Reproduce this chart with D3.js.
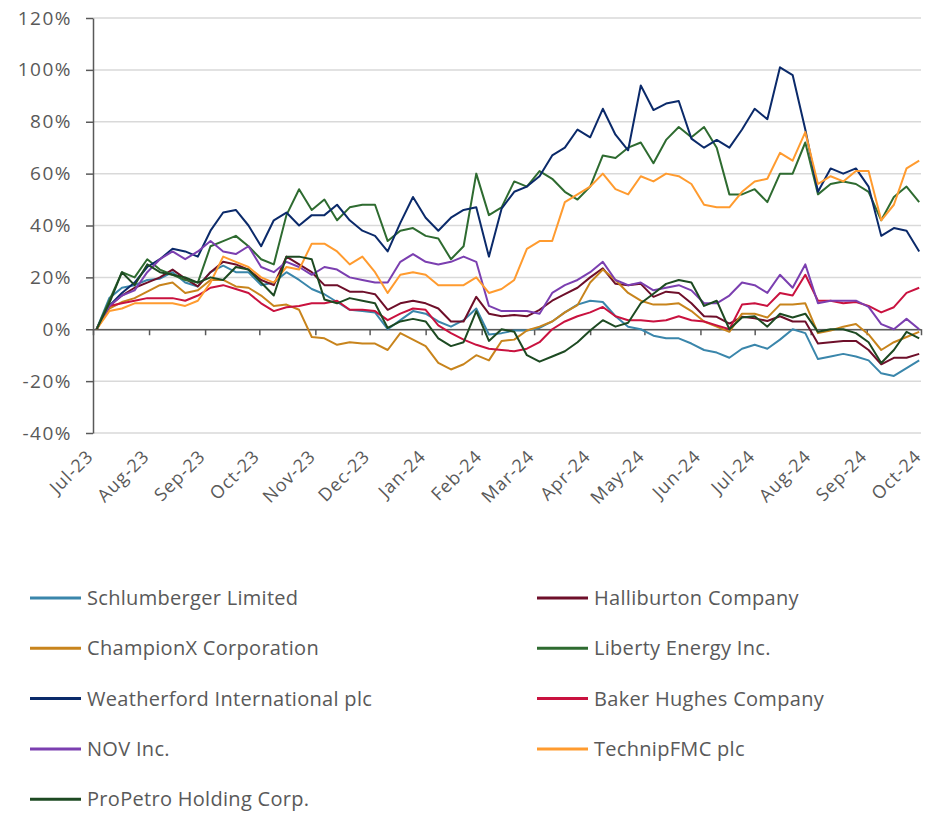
<!DOCTYPE html>
<html lang="en">
<head>
<meta charset="utf-8">
<title>Oilfield services share price performance</title>
<script src="https://cdn.jsdelivr.net/npm/d3@7/dist/d3.min.js"></script>
<style>
  body { margin: 0; background: #fff; }
  text { font-family: "Open Sans", sans-serif; fill: #595959; }
</style>
</head>
<body>
<script>
// % change since start of Jul-23, one reading per week (Mondays)
var seriesNames = ['Schlumberger Limited', 'Halliburton Company', 'ChampionX Corporation',
  'Liberty Energy Inc.', 'Weatherford International plc', 'Baker Hughes Company',
  'NOV Inc.', 'TechnipFMC plc', 'ProPetro Holding Corp.'];
var seriesColors = ['#3a86ab', '#6e0f2a', '#c8841c', '#2e6b30', '#0b2a6a',
  '#c9123f', '#7b3fb0', '#ff9b2f', '#1d4a22'];

var slb = [0, 12, 16, 17, 19, 19.5, 22, 18, 16.5, 22, 24.5, 22, 22, 17, 18, 22, 19, 15.5, 13.5, 10.5,
  7.5, 7, 6.5, 0, 3.5, 7, 6, 3, 1, 3.5, 8, -2, -1.5, -0.5, -0.5, 0.5, 3, 6.5, 9.5, 11,
  10.5, 5, 1, 0, -2.5, -3.5, -3.5, -5.5, -8, -9, -11, -7.5, -6, -7.5, -4, 0, -1.5, -11.5, -10.5, -9.5,
  -10.5, -12, -17, -18, -15, -12];
var hal = [0, 9, 13, 16, 18, 20, 23, 19.5, 16.5, 22, 26, 25, 23, 19, 17, 28, 25, 22, 17, 17,
  14.5, 14.5, 13.5, 7.5, 10, 11, 10, 8, 3, 3, 12.5, 6, 5, 5.5, 5, 7.5, 11, 13.5, 16, 20,
  23.5, 17.5, 17, 17.5, 12.5, 14.5, 14, 10, 5, 4.8, 2.2, 4.8, 4.2, 3.2, 5, 3, 3, -5.5, -5, -4.5,
  -4.5, -8, -13.5, -11, -11, -9.5];
var chx = [0, 8, 10.5, 12, 14.5, 17, 18, 14, 15, 19, 19, 16.5, 16, 13, 9, 9.5, 7.5, -3, -3.5, -6,
  -5, -5.5, -5.5, -8, -1.5, -4, -6.5, -13, -15.5, -13.5, -10, -12, -4.5, -4, -0.5, 1, 3, 6.5, 9.3, 18,
  23, 19, 14, 11, 9.5, 9.5, 10, 7, 3, 1, -1, 6, 6, 4.5, 9.5, 9.5, 10, -1.5, -0.5, 1,
  2, -2, -8, -5, -3, -1];
var lbrt = [0, 11, 22, 20, 27, 23, 21, 19, 18, 32, 34, 36, 32, 27, 25, 44, 54, 46, 50, 42,
  47, 48, 48, 34, 38, 39, 36, 35, 27, 32, 60, 44, 47, 57, 55, 61, 58, 53, 50, 55,
  67, 66, 70, 72, 64, 73, 78, 74, 78, 70, 52, 52, 54, 49, 60, 60, 72, 52, 56, 57,
  56, 53, 42, 51, 55, 49];
var wfrd = [0, 9, 14, 18, 24, 27, 31, 30, 28, 38, 45, 46, 40, 32, 42, 45, 40, 44, 44, 48,
  42, 38, 36, 30, 41, 51, 43, 38, 43, 46, 47, 28, 46.5, 53, 55, 59, 67, 70, 77, 74,
  85, 75, 69, 94, 84.5, 87, 88, 73.5, 70, 73, 70, 77, 85, 81, 101, 98, 77, 53, 62, 60,
  62, 55, 36, 39, 38, 30];
var bkr = [0, 9, 10, 11, 12, 12, 12, 11, 13, 16, 17, 15.5, 14, 10, 7, 8.5, 9, 10, 10, 11,
  7.5, 7.5, 7, 3.5, 6, 8, 7.5, 1.5, -1.5, -4, -6, -7.5, -8, -8.5, -7.5, -5, 0, 3, 5, 6.5,
  8.6, 5, 3.5, 3.5, 3, 3.5, 5, 3.5, 3, 1.5, 0, 9.5, 10, 9, 14, 13, 21, 11, 11, 10,
  10.5, 9, 6.5, 8.5, 14, 16];
var nov = [0, 9, 13, 15, 22, 27, 30, 27, 30, 34, 30, 29, 32, 24, 22, 26, 24, 21, 24, 23,
  20, 19, 18, 18, 26, 29, 26, 25, 26, 28, 26, 9, 7, 7, 7, 6, 14, 17, 19, 22,
  26, 19, 17, 18, 15, 16, 17, 15, 10, 10, 13, 18, 17, 14, 21, 16, 25, 10, 11, 11,
  11, 8.6, 2, 0, 4, 0];
var fti = [0, 7, 8, 10, 10, 10, 10, 9, 11, 18, 28, 26, 24, 20, 18, 24, 23, 33, 33, 30,
  25, 28, 22, 14, 21, 22, 21, 17, 17, 17, 20, 14, 15.5, 19, 31, 34, 34, 49, 52, 55,
  60, 54, 52, 59, 57, 60, 59, 56, 48, 47, 47, 53, 57, 58, 68, 65, 76, 56, 59, 57,
  61, 61, 42, 48, 62, 65];
var pump = [0, 10, 22, 17, 25, 22, 21, 20, 18, 20, 19, 24, 23, 18, 13, 28, 28, 27, 11.5, 10,
  12, 11, 10, 0.5, 3, 4, 3, -3.5, -6.5, -5, 7, -4.5, 0, -1, -10, -12.5, -10.5, -8.5, -5, -0.5,
  3.5, 1, 2.5, 10, 13.7, 17.5, 19, 18, 9, 11, 0, 4.5, 5, 1, 6, 4.5, 6, -1, 0, 0,
  -1.5, -5, -13, -8, -1, -3.5];

var seriesValues = [slb, hal, chx, lbrt, wfrd, bkr, nov, fti, pump];
var yTicks = [-40, -20, 0, 20, 40, 60, 80, 100, 120];

var firstDate = new Date(2023, 6, 3);
var dates = slb.map(function(d, i) { return d3.timeDay.offset(firstDate, 7 * i); });

var w = 928;
var h = 813;

var svg = d3.select('body').append('svg')
            .attr('width', w)
            .attr('height', h);

var xScale = d3.scaleTime()
               .domain([new Date(2023, 6, 1), new Date(2024, 9, 1)])
               .range([93, 921]);
var yScale = d3.scaleLinear()
               .domain([-40, 120])
               .range([433, 18]);

// gridlines
svg.selectAll('line.grid')
   .data(yTicks)
   .enter()
   .append('line')
   .attr('class', 'grid')
   .attr('x1', xScale.range()[0])
   .attr('x2', xScale.range()[1])
   .attr('y1', function(d) { return yScale(d); })
   .attr('y2', function(d) { return yScale(d); })
   .attr('stroke', '#d9d9d9')
   .attr('stroke-width', 1.5);

// y axis
var yAxis = svg.append('g')
   .attr('transform', 'translate(' + xScale.range()[0] + ',0)')
   .call(d3.axisLeft(yScale).tickValues(yTicks)
           .tickFormat(function(d) { return d + '%'; })
           .tickSize(7).tickSizeOuter(0).tickPadding(14));
yAxis.selectAll('path, line').attr('stroke', '#595959').attr('stroke-width', 1.5);
yAxis.selectAll('text').attr('font-size', '19px').attr('letter-spacing', '1.5px')
     .attr('font-family', null).attr('fill', null);

// x axis sits on the 0% line, labels drop to the bottom
var months = d3.timeMonth.range(new Date(2023, 6, 1), new Date(2024, 9, 2));
var xAxis = svg.append('g')
   .attr('transform', 'translate(0,' + yScale(0) + ')')
   .call(d3.axisBottom(xScale).tickValues(months).tickFormat('')
           .tickSize(6).tickSizeOuter(0));
xAxis.selectAll('path, line').attr('stroke', '#595959').attr('stroke-width', 1.5);

svg.selectAll('text.month')
   .data(months)
   .enter()
   .append('text')
   .attr('class', 'month')
   .attr('text-anchor', 'end')
   .attr('font-size', '18px')
   .attr('letter-spacing', '1px')
   .attr('dy', '0.35em')
   .attr('transform', function(d) {
     return 'translate(' + (xScale(d) - 3) + ',453) rotate(-45)';
   })
   .text(d3.timeFormat('%b-%y'));

// series lines
var line = d3.line()
   .x(function(d, i) { return xScale(dates[i]); })
   .y(function(d) { return yScale(d); });

svg.selectAll('path.series')
   .data(seriesValues)
   .enter()
   .append('path')
   .attr('class', 'series')
   .attr('d', line)
   .attr('fill', 'none')
   .attr('stroke', function(d, i) { return seriesColors[i]; })
   .attr('stroke-width', 2)
   .attr('stroke-linejoin', 'round');

// legend, two columns
var legend = svg.selectAll('g.legend')
   .data(seriesNames)
   .enter()
   .append('g')
   .attr('class', 'legend')
   .attr('transform', function(d, i) {
     return 'translate(' + (i % 2 ? 537 : 30) + ',' + (598 + Math.floor(i / 2) * 50.3) + ')';
   });
legend.append('line')
   .attr('x1', 0).attr('x2', 51)
   .attr('stroke', function(d, i) { return seriesColors[i]; })
   .attr('stroke-width', 3);
legend.append('text')
   .attr('x', 57)
   .attr('dy', '0.35em')
   .attr('font-size', '20px')
   .attr('letter-spacing', '0.3px')
   .text(function(d) { return d; });
</script>
</body>
</html>
